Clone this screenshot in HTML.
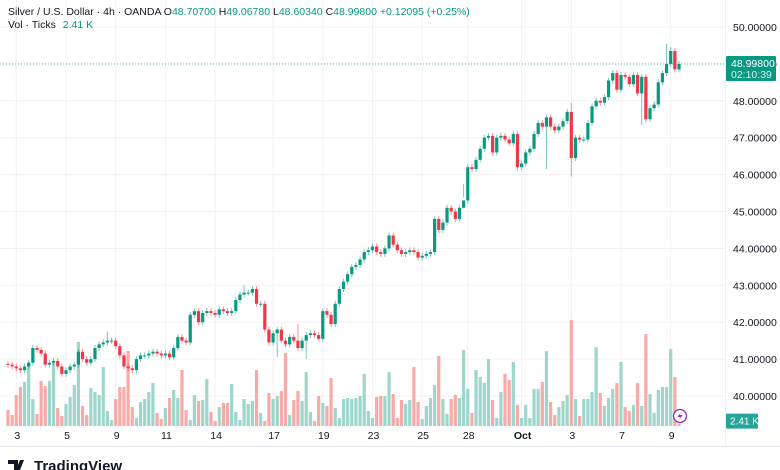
<!DOCTYPE html>
<html><head><meta charset="utf-8">
<style>
body{margin:0;background:#fff;font-family:"Liberation Sans",sans-serif;}
#wrap{position:relative;width:780px;height:470px;overflow:hidden;background:#fff;}
svg{position:absolute;left:0;top:0;}
</style></head>
<body>
<div id="wrap">
<svg id="chart" width="780" height="470">
  <g id="grid"></g>
  <g id="vols"></g>
  <g id="candles"></g>
  <g id="yaxis"></g>
  <g id="xaxis"></g>
  <text x="8" y="15" font-size="10.5" fill="#131722">Silver / U.S. Dollar · 4h · OANDA <tspan fill="#131722">O</tspan><tspan fill="#089981">48.70700</tspan> <tspan fill="#131722">H</tspan><tspan fill="#089981">49.06780</tspan> <tspan fill="#131722">L</tspan><tspan fill="#089981">48.60340</tspan> <tspan fill="#131722">C</tspan><tspan fill="#089981">48.99800 +0.12095 (+0.25%)</tspan></text>
  <text x="8" y="28" font-size="10.5" fill="#131722">Vol · Ticks <tspan fill="#089981" dx="4">2.41 K</tspan></text>
  <g>
    <path d="M8 460 h10 v10 h-4 v-6 h-6 z M20 460 h4 l-4 10 h-4 z" fill="#131722"/>
    <text x="34" y="471" font-size="15" font-weight="bold" fill="#131722">TradingView</text>
  </g>
</svg>
</div>
<script>
const seg1Closes=[40.85,40.8,40.75,40.7,40.8,40.9,41.3,41.25,41.15,40.85,40.9,40.95,40.8,40.6,40.7,40.8,40.85,41.2,41.0,40.9,41.0,41.3,41.4,41.45,41.5,41.5,41.35,41.1,40.8,40.75,40.7,41.0,41.1,41.1,41.15,41.2,41.15,41.1,41.15,41.05];
const seg2Closes=[41.3,41.6,41.5,41.45,42.2,42.3,42.0,42.25,42.3,42.25,42.2,42.35,42.3,42.25,42.3,42.6,42.75,42.8,42.8,42.9,42.5,42.5,41.8,41.45,41.7,41.8,41.5,41.4,41.6,41.5,41.3,41.5,41.65,41.7,41.65,41.55,42.3,42.2,41.95,42.5,42.9,43.1,43.3];
const seg3Closes=[43.5,43.55,43.7,43.9,43.95,44.05,43.9,43.85,44.0,44.35,44.1,43.95,43.85,43.9,43.95,43.9,43.75,43.8,43.85,43.9,44.8,44.5,44.7,45.1,45.0,44.8,45.1,45.3,46.2,46.15,46.4,46.7,47.0,47.05,46.6,47.0,47.05,46.95,46.85,47.1,46.2,46.3];
const seg4Closes=[46.6,46.7,47.1,47.4,47.3,47.55,47.3,47.2,47.3,47.45,47.7,46.45,47.0,46.95,46.95,47.4,47.85,48.0,47.95,48.1,48.55,48.75,48.3,48.7,48.65,48.45,48.7,48.2,48.65,47.5,47.8,47.9,48.5,48.75,49.0,49.35,48.85,48.998];
const seg1Vols=[16,11,31,39,44,64,27,12,45,40,45,63,18,10,22,29,41,84,20,11,38,34,31,59,15,6,27,39,39,75,19,8,24,27,34,43,13,7,18,28];
const seg2Vols=[36,28,56,16,6,31,25,26,47,14,5,19,23,23,42,14,6,27,22,25,56,13,5,33,27,30,35,73,11,26,35,25,54,14,5,30,23,20,48,18,8,27,28];
const seg3Vols=[27,28,30,52,15,8,29,30,30,54,32,8,26,22,26,59,24,7,20,28,41,70,27,12,27,31,28,76,37,13,56,49,43,67,26,8,34,52,46,64,21,8];
const seg4Vols=[21,8,37,37,44,75,24,11,19,25,31,106,27,10,27,27,34,79,33,20,28,37,43,64,19,15,21,43,20,92,32,13,36,39,39,77,49,2.41];
const highExceptions={24:41.75,70:41.95,136:47.95,159:49.55,160:49.45,57:43.0};
const lowExceptions={65:41.05,136:45.95,153:47.35,110:45.75,130:46.15,72:41.0};
const priceTicks=[40,41,42,43,44,45,46,47,48,49,50];
const dateLabels=["3","5","9","11","14","17","19","23","25","28","Oct","3","7","9"];
const dateIndex=[2,14,26,38,50,64,76,88,100,111,124,136,148,160];

const closes=seg1Closes.concat(seg2Closes,seg3Closes,seg4Closes);
const vols=seg1Vols.concat(seg2Vols,seg3Vols,seg4Vols);
const opens=closes.map((c,i)=>i===0?40.87:closes[i-1]);
const NS="http://www.w3.org/2000/svg";
const X0=8,X1=679;
const step=(X1-X0)/(closes.length-1);
const xs=i=>X0+i*step;
const ys=p=>396-(p-40)*36.9;
const vy=v=>426-v;
function mk(tag,attrs,parent){const e=document.createElementNS(NS,tag);for(const k in attrs)e.setAttribute(k,attrs[k]);parent.appendChild(e);return e;}
const grid=document.getElementById('grid'),vg=document.getElementById('vols'),cg=document.getElementById('candles'),ya=document.getElementById('yaxis'),xa=document.getElementById('xaxis');
priceTicks.forEach(p=>{
  const l=mk('line',{x1:0,x2:725,y1:ys(p),y2:ys(p),stroke:'#f5f0f2','stroke-width':1},grid);
  
  
  const t=mk('text',{x:733,y:ys(p)+4,'font-size':10.5,fill:'#131722'},ya);
  t.textContent=p.toFixed(5);
  
  
});
dateLabels.forEach((d,k)=>{
  const x=xs(dateIndex[k]);
  const l=mk('line',{x1:x,x2:x,y1:0,y2:426,stroke:'#f5f0f2','stroke-width':1},grid);
  
  
  const t=mk('text',{x:x+1,y:439,'font-size':10.5,fill:'#131722','text-anchor':'middle','font-weight':d==='Oct'?'bold':'normal'},xa);
  t.textContent=d;
  
  
});
mk('line',{x1:0,x2:780,y1:446.5,y2:446.5,stroke:'#e0e3eb'},grid);
mk('line',{x1:725.5,x2:725.5,y1:0,y2:446,stroke:'#f0f0f3'},grid);
closes.forEach((c,i)=>{
  const o=opens[i];const up=c>=o;const x=xs(i);
  const hi=highExceptions[i]!==undefined?highExceptions[i]:Math.max(o,c)+0.08;
  const lo=lowExceptions[i]!==undefined?lowExceptions[i]:Math.min(o,c)-0.08;
  const vb=mk('rect',{x:x-1.6,y:vy(vols[i]),width:3.2,height:vols[i],fill:up?'#9fd6cc':'#f7aaa8'},vg);
  
  
  const col=up?'#089981':'#f23645';
  const w=mk('line',{x1:x,x2:x,y1:ys(hi),y2:ys(lo),stroke:col,'stroke-width':1,'stroke-opacity':0.55},cg);
  
  
  const top=ys(Math.max(o,c)),bot=ys(Math.min(o,c));
  const b=mk('rect',{x:x-1.6,y:top,width:3.2,height:Math.max(1,bot-top),fill:col},cg);
  
  
});
const lp=closes[closes.length-1];
const dl=mk('line',{x1:0,x2:725,y1:ys(lp),y2:ys(lp),stroke:'#089981','stroke-dasharray':'1 2','stroke-width':1,'stroke-opacity':0.7},ya);


const lb=mk('rect',{x:726,y:ys(lp)-8,width:50,height:25,fill:'#089981',rx:1},ya);


const t1=mk('text',{x:731,y:ys(lp)+3,'font-size':10.5,fill:'#fff'},ya);t1.textContent=lp.toFixed(5);


const t2=mk('text',{x:731,y:ys(lp)+14,'font-size':10.5,fill:'#d9f2ed'},ya);t2.textContent='02:10:39';


const vbx=mk('rect',{x:726,y:vy(vols[vols.length-1])-10,width:32,height:15,fill:'#26a69a',rx:1},ya);


const vt=mk('text',{x:730,y:vy(vols[vols.length-1])+1,'font-size':10,fill:'#fff'},ya);vt.textContent='2.41 K';


const ic=mk('g',{},cg);


mk('circle',{cx:680,cy:416,r:6.5,fill:'#fff',stroke:'#9c27b0','stroke-width':1.3},ic);
mk('path',{d:'M681.5 411 L677.5 417 L680.5 417 L678.5 421 L682.5 415 L679.5 415 Z',fill:'#9c27b0'},ic);
</script>
</body></html>
